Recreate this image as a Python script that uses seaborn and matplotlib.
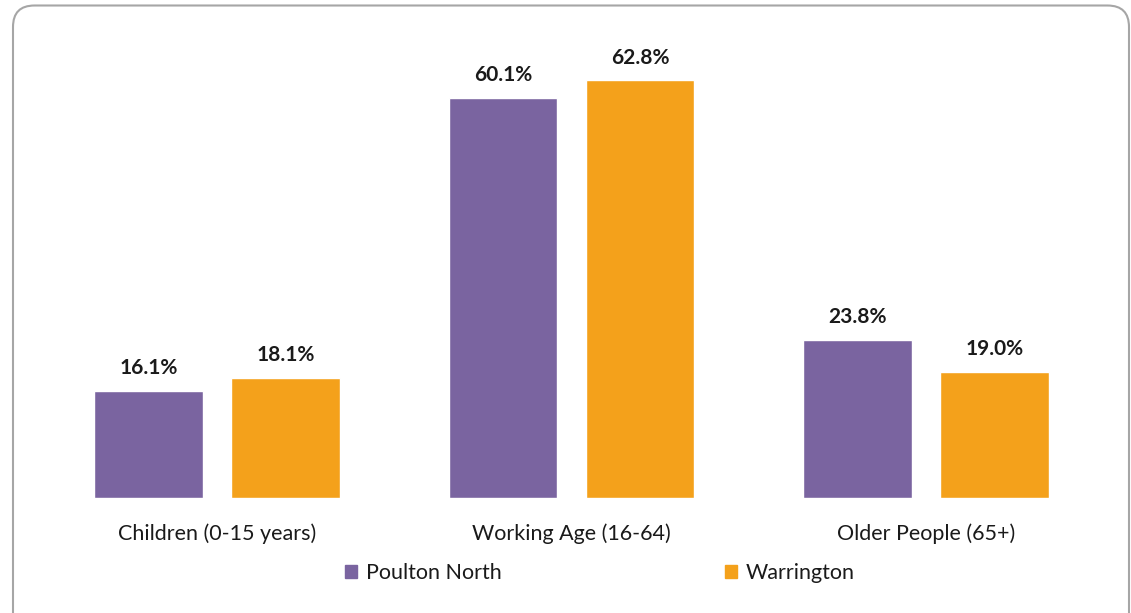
import pandas as pd
import matplotlib.pyplot as plt
import seaborn as sns
from matplotlib.patches import FancyBboxPatch

# datos del gráfico
categories = ['Children (0-15 years)', 'Working Age (16-64)', 'Older People (65+)']
areas = ['Poulton North', 'Warrington']
poulton_north = [16.1, 60.1, 23.8]
warrington = [18.1, 62.8, 19.0]

colors = ['#7A64A0', '#F4A11B']

df = pd.DataFrame({
    'category': categories * 2,
    'area': [areas[0]] * 3 + [areas[1]] * 3,
    'value': poulton_north + warrington,
})

sns.set_style('white')
plt.rcParams['font.family'] = ['Lato', 'DejaVu Sans']

fig = plt.figure(figsize=(11.31, 6.13), dpi=100)
ax = fig.add_axes([0, 1 - 498 / 613, 1, 498 / 613])

sns.barplot(data=df, x='category', y='value', hue='area', palette=colors,
            saturation=1, width=0.773, gap=0.211, ax=ax, legend=False)

# etiquetas de valor encima de cada barra
for container in ax.containers:
    ax.bar_label(container, fmt='%.1f%%', padding=9, fontsize=15,
                 fontweight='bold', color='#1a1a1a')

ax.set_xlim(-217 / 354.5, (1131 - 217) / 354.5)
ax.set_ylim(0, 498 / 6.656)
ax.set_xlabel('')
ax.set_ylabel('')
ax.set_yticks([])
ax.tick_params(axis='x', length=0, pad=18, labelsize=15.5, labelcolor='#1a1a1a')
sns.despine(ax=ax, left=True, bottom=True, top=True, right=True)
ax.patch.set_alpha(0)

# leyenda inferior
handles = [plt.Rectangle((0, 0), 1, 1, color=c) for c in colors]
fig.legend(handles, areas, loc='center', bbox_to_anchor=(600 / 1131, 1 - 573 / 613),
           ncol=2, frameon=False, fontsize=15.5, handlelength=0.55, handleheight=0.55,
           handletextpad=0.4, columnspacing=10.4, labelcolor='#1a1a1a')

# marco redondeado
border = FancyBboxPatch((13 / 1131, -25 / 613), (1129 - 13) / 1131, (613 + 25 - 5.5) / 613,
                        boxstyle='round,pad=0,rounding_size=0.019',
                        transform=fig.transFigure, fill=False,
                        edgecolor='#A6A6A6', linewidth=1.5, mutation_aspect=1131 / 613)
fig.patches.append(border)

fig.savefig('out.png', dpi=100)
